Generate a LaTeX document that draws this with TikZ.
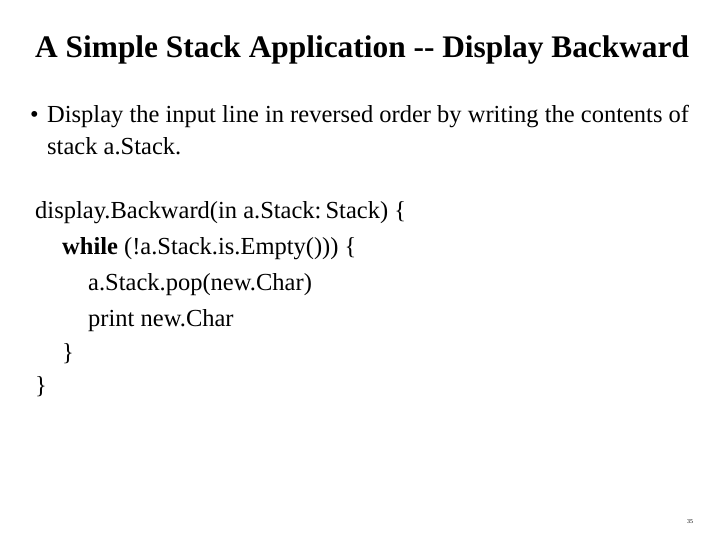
\documentclass[tikz,border=0pt]{standalone}
\usepackage{fontspec}
\setmainfont{Liberation Serif}
\tikzset{
  line/.style={anchor=base west, inner sep=0pt, font=\fontsize{24.6}{29}\selectfont},
  headline/.style={anchor=base west, inner sep=0pt, font=\fontsize{31.5}{36}\selectfont\bfseries},
}
\begin{document}
\begin{tikzpicture}[x=1bp,y=-1bp]
	\useasboundingbox (0,0) rectangle (720,540);
	\node[headline] (title) at (35,58) {A Simple Stack Application -{}- Display Backward};
	\node[line] (dot) at (30,123) {\textbullet};
	\node[line] (bull1) at (47,123) {Display the input line in reversed order by writing the contents of};
	\node[line] (bull2) at (47,155) {stack a.Stack.};
	\node[line] (code1) at (35,219) {display.Backward(in a.Stack:\,Stack) \{};
	\node[line] (code2) at (62,255) {\textbf{while} (!a.Stack.is.Empty())) \{};
	\node[line] (code3) at (88,290) {a.Stack.pop(new.Char)};
	\node[line] (code4) at (88,326) {print new.Char};
	\node[line] (code5) at (62,360) {\}};
	\node[line] (code6) at (35,393) {\}};
	\node[anchor=base west, inner sep=0pt, font=\fontsize{6}{7}\selectfont] (page) at (687,523) {35};
\end{tikzpicture}
\end{document}
